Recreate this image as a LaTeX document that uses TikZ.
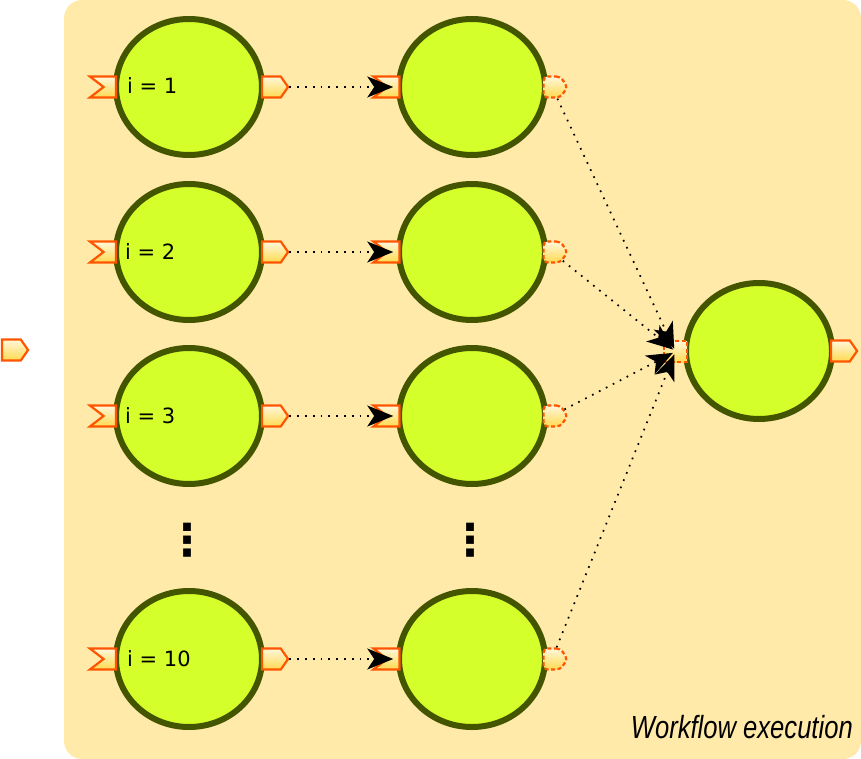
\documentclass[tikz,border=0pt]{standalone}
\usepackage{fontspec}
\setmainfont{DejaVu Sans}
\newfontfamily\captionfont{Liberation Sans}
\usetikzlibrary{shapes.geometric, shapes.symbols, arrows.meta, positioning}
\definecolor{bgyellow}{RGB}{255, 234, 170}
\definecolor{stepfill}{RGB}{212, 255, 42}
\definecolor{stepdraw}{RGB}{68, 85, 0}
\definecolor{portdraw}{RGB}{255, 85, 0}
\definecolor{porttop}{RGB}{255, 247, 218}
\definecolor{portbottom}{RGB}{255, 218, 80}

\begin{document}
\begin{tikzpicture}[
    x=1pt, y=-1pt,
    task/.style={ellipse, draw=stepdraw, fill=stepfill, line width=6pt, minimum width=146pt, minimum height=136pt},
    port/.style={signal, draw=portdraw, top color=porttop, bottom color=portbottom, line width=2.2pt, minimum width=26pt, minimum height=21pt, inner sep=0pt},
    inport/.style={port, signal from=west, signal to=nowhere, signal pointer angle=75, anchor=east},
    outport/.style={port, signal to=east, signal from=nowhere, signal pointer angle=110, anchor=west},
    dashout/.style={outport, minimum width=24pt, dash pattern=on 4pt off 2.5pt, rounded corners=4pt},
    dashin/.style={rectangle, draw=portdraw, top color=porttop, bottom color=portbottom, line width=2.2pt, minimum width=23pt, minimum height=21pt, inner sep=0pt, dash pattern=on 4pt off 2.5pt},
    label/.style={anchor=base west, inner sep=0pt, font=\fontsize{21}{21}\selectfont},
    vdots/.style={font=\fontsize{44}{44}\selectfont\bfseries, inner sep=0pt},
    flow/.style={-{Stealth[length=26pt, width=21pt, inset=7pt]}, line width=1.7pt, dash pattern=on 1.7pt off 6.1pt, color=black},
]
\useasboundingbox (0,0) rectangle (861,759);

% Workflow box
\node[rectangle, fill=bgyellow, rounded corners=18pt, minimum width=797pt, minimum height=759pt, inner sep=0pt] (wfbox) at (462.5, 379.5) {};
\node[font=\captionfont\itshape\fontsize{32}{32}\selectfont, anchor=base east, inner sep=0pt] (caption) at (853, 738) {\scalebox{0.8}[1]{Workflow execution}};

% First column
\node[task] (a1) at (189, 87) {};
\node[task] (a2) at (189, 252) {};
\node[task] (a3) at (189, 416) {};
\node[task] (a10) at (189, 659) {};

\node[inport] (ia1) at (117, 87) {};
\node[inport] (ia2) at (117, 252) {};
\node[inport] (ia3) at (117, 416) {};
\node[inport] (ia10) at (117, 659) {};

\node[outport] (oa1) at (261, 87) {};
\node[outport] (oa2) at (261, 252) {};
\node[outport] (oa3) at (261, 416) {};
\node[outport] (oa10) at (261, 659) {};

\node[label] (la1) at (127, 94) {i = 1};
\node[label] (la2) at (125, 259) {i = 2};
\node[label] (la3) at (125, 423) {i = 3};
\node[label] (la10) at (127, 666) {i = 10};

% Second column
\node[task] (b1) at (472, 87) {};
\node[task] (b2) at (472, 252) {};
\node[task] (b3) at (472, 416) {};
\node[task] (b10) at (472, 659) {};

\node[inport] (ib1) at (400.5, 87) {};
\node[inport] (ib2) at (400.5, 252) {};
\node[inport] (ib3) at (400.5, 416) {};
\node[inport] (ib10) at (400.5, 659) {};

\node[dashout] (ob1) at (542.5, 87) {};
\node[dashout] (ob2) at (542.5, 252) {};
\node[dashout] (ob3) at (542.5, 416) {};
\node[dashout] (ob10) at (542.5, 659) {};

% Dots
\node[vdots] (dotsa) at (187, 540) {⋮};
\node[vdots] (dotsb) at (470, 540) {⋮};

% Merge step
\node[task] (merge) at (759, 351) {};
\node[dashin] (imerge) at (675.5, 351.5) {};
\node[outport] (omerge) at (830, 351) {};

% Outer port
\node[outport] (ext) at (1, 350) {};

% Connections
\draw[flow] (oa1.east) -- (ib1.center);
\draw[flow] (oa2.east) -- (ib2.center);
\draw[flow] (oa3.east) -- (ib3.center);
\draw[flow] (oa10.east) -- (ib10.center);

\draw[flow, shorten >=3pt] (ob1) -- (imerge.center);
\draw[flow, shorten >=3pt] (ob2) -- (imerge.center);
\draw[flow, shorten >=3pt] (ob3) -- (imerge.center);
\draw[flow, shorten >=3pt] (ob10) -- (imerge.center);

\end{tikzpicture}
\end{document}
